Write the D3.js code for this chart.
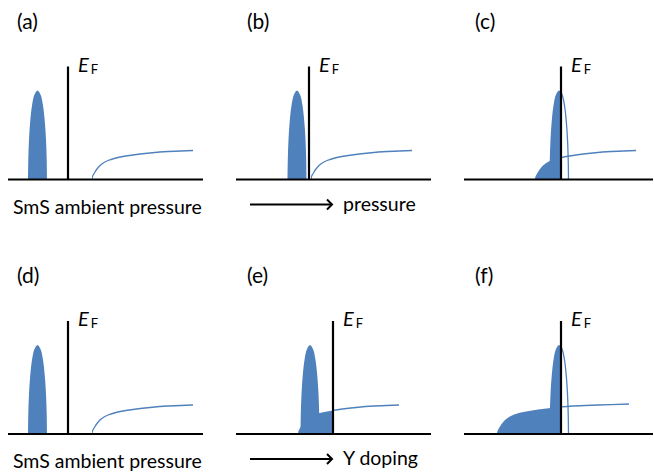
<!DOCTYPE html>
<html>
<head>
<meta charset="utf-8">
<script src="https://cdn.jsdelivr.net/npm/d3@7"></script>
<style>
  body { margin: 0; background: #fff; }
  svg { display: block; font-family: Lato, "Open Sans", sans-serif; }
</style>
</head>
<body>
<div id="chart"></div>
<script>
// panel letters and the caption under each panel
var panelNames = ["(a)", "(b)", "(c)", "(d)", "(e)", "(f)"];
var captions = ["SmS ambient pressure", "pressure", "", "SmS ambient pressure", "Y doping", ""];
var arrows = [false, true, false, false, true, false];

// energy axis of each panel, E_F = 0 (arbitrary units)
var axisMin = [-60, -73, -97, -60, -97, -97];
var axisMax = [135, 122, 92, 135, 98, 92];

// 4f peak: [offset from centre, DOS]
var peakShape = [[-9.5, 0], [-9.2, 20], [-8.5, 40], [-7.3, 58], [-5.5, 74], [-3, 85], [0, 89],
                 [3, 85], [5.5, 74], [7.3, 58], [8.5, 40], [9.2, 20], [9.5, 0]];
var peakCentre = [-30.5, -12, -2, -30.5, -23, -2];

// 5d conduction band: [offset from band edge, DOS]
var bandShape = [[0, 0], [0.5, 3], [1.5, 5], [3, 7.5], [5, 10.5], [8, 14], [12, 17], [16, 19],
                 [24, 21.5], [41, 24.5], [58, 26.5], [76, 28], [101, 29], [132, 30]];
var bandEdge = [24, 2, -26, 24, -35, -64];
var bandEnd = [125, 103, 75, 125, 66, 68];

var efHeight = 113;

var width = 654, height = 472;
var blue = "#4f81bd";
var cols = [[8, 203], [236, 431], [464, 653]];
var rowBase = [179.5, 434];

var svg = d3.select("#chart").append("svg")
  .attr("width", width)
  .attr("height", height);

var defs = svg.append("defs");

panelNames.forEach(function(name, i) {
  var col = i % 3, row = Math.floor(i / 3);
  var base = rowBase[row];

  var x = d3.scaleLinear()
    .domain([axisMin[i], axisMax[i]])
    .range(cols[col]);
  var y = d3.scaleLinear()
    .domain([0, 120])
    .range([base, base - 120]);

  var g = svg.append("g");

  // clip regions: occupied (E < E_F), empty (E > E_F), drawn band line
  defs.append("clipPath").attr("id", "occ" + i)
    .append("rect")
    .attr("x", x(axisMin[i])).attr("y", y(120))
    .attr("width", x(0) - x(axisMin[i])).attr("height", 120);
  defs.append("clipPath").attr("id", "emp" + i)
    .append("rect")
    .attr("x", x(0)).attr("y", y(120))
    .attr("width", x(axisMax[i]) - x(0)).attr("height", 120);
  defs.append("clipPath").attr("id", "band" + i)
    .append("rect")
    .attr("x", x(Math.max(0, bandEdge[i]))).attr("y", y(120))
    .attr("width", x(bandEnd[i]) - x(Math.max(0, bandEdge[i]))).attr("height", 121);

  var band = bandShape.map(function(d) { return [bandEdge[i] + d[0], d[1]]; });
  var peak = peakShape.map(function(d) { return [peakCentre[i] + d[0], d[1]]; });

  var bandArea = d3.area()
    .x(function(d) { return x(d[0]); })
    .y0(y(0))
    .y1(function(d) { return y(d[1]); })
    .curve(d3.curveCatmullRom);
  var bandLine = d3.line()
    .x(function(d) { return x(d[0]); })
    .y(function(d) { return y(d[1]); })
    .curve(d3.curveCatmullRom);
  var peakLine = d3.line()
    .x(function(d) { return x(d[0]); })
    .y(function(d) { return y(d[1]); })
    .curve(d3.curveCatmullRom);

  // filled states below E_F
  g.append("path")
    .datum(band)
    .attr("clip-path", "url(#occ" + i + ")")
    .attr("fill", blue)
    .attr("d", bandArea);
  g.append("path")
    .datum(peak)
    .attr("clip-path", "url(#occ" + i + ")")
    .attr("fill", blue)
    .attr("d", peakLine);

  // empty states above E_F
  g.append("path")
    .datum(peak)
    .attr("clip-path", "url(#emp" + i + ")")
    .attr("fill", "none")
    .attr("stroke", blue)
    .attr("stroke-width", 1.3)
    .attr("d", peakLine);
  g.append("path")
    .datum(band)
    .attr("clip-path", "url(#band" + i + ")")
    .attr("fill", "none")
    .attr("stroke", blue)
    .attr("stroke-width", 1.3)
    .attr("d", bandLine);

  // energy axis and E_F
  g.append("line")
    .attr("x1", x(axisMin[i])).attr("x2", x(axisMax[i]))
    .attr("y1", y(0)).attr("y2", y(0))
    .attr("stroke", "#000").attr("stroke-width", 2.2);
  g.append("line")
    .attr("x1", x(0)).attr("x2", x(0))
    .attr("y1", y(0)).attr("y2", y(efHeight))
    .attr("stroke", "#000").attr("stroke-width", 2.2);

  var ef = g.append("text")
    .attr("x", x(0) + 10)
    .attr("y", y(efHeight) + 5)
    .attr("font-size", 20);
  ef.append("tspan").attr("font-style", "italic").text("E");
  ef.append("tspan").attr("font-size", 13).attr("dx", 2).attr("dy", 2).text("F");

  g.append("text")
    .attr("x", cols[col][0] + (col == 0 ? 9 : 11))
    .attr("y", base - 151)
    .attr("font-size", 21)
    .text(name);

  if (arrows[i]) {
    var ay = base + 25;
    g.append("line")
      .attr("x1", cols[col][0] + 14).attr("x2", cols[col][0] + 96)
      .attr("y1", ay).attr("y2", ay)
      .attr("stroke", "#000").attr("stroke-width", 2);
    g.append("path")
      .attr("d", "M" + (cols[col][0] + 91) + "," + (ay - 5) + "L" + (cols[col][0] + 96) + "," + ay +
                 "L" + (cols[col][0] + 91) + "," + (ay + 5))
      .attr("fill", "none").attr("stroke", "#000").attr("stroke-width", 2);
    g.append("text")
      .attr("x", cols[col][0] + 107)
      .attr("y", base + 31)
      .attr("font-size", 19.5)
      .text(captions[i]);
  } else if (captions[i]) {
    g.append("text")
      .attr("x", cols[col][0] + 5)
      .attr("y", base + 34)
      .attr("font-size", 19.5)
      .text(captions[i]);
  }
});
</script>
</body>
</html>
